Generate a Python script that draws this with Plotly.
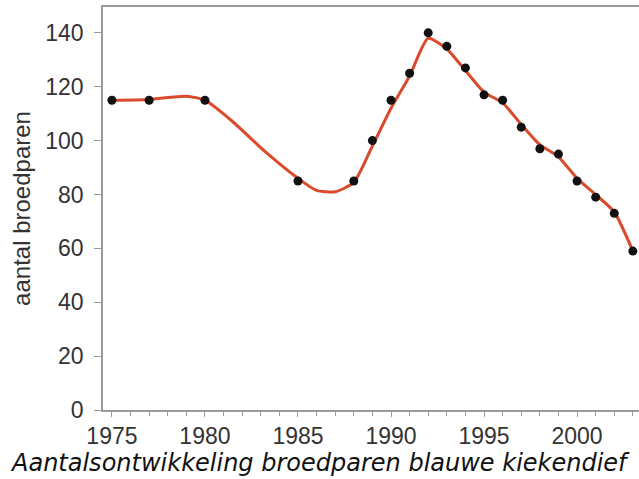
import plotly.graph_objects as go

# observed counts (points)
point_years = [1975, 1977, 1980, 1985, 1988, 1989, 1990, 1991, 1992, 1993, 1994,
               1995, 1996, 1997, 1998, 1999, 2000, 2001, 2002, 2003]
point_values = [115, 115, 115, 85, 85, 100, 115, 125, 140, 135, 127,
                117, 115, 105, 97, 95, 85, 79, 73, 59]

# smoothed trend line
trend_years = [1975, 1977, 1979, 1980, 1981.5, 1983.3, 1985, 1986, 1987, 1988,
               1989, 1990, 1991, 1992, 1993, 1994, 1995, 1996, 1997, 1998,
               1999, 2000, 2001, 2002, 2003]
trend_values = [115, 115.3, 116.5, 115, 107, 95.5, 86, 81.5, 81, 84.5,
                98, 112, 124, 138, 134, 126, 118, 114, 106, 98.5,
                94, 86, 80, 73.5, 59]

y_ticks = [0, 20, 40, 60, 80, 100, 120, 140]
x_ticks = [1975, 1980, 1985, 1990, 1995, 2000]

fig = go.Figure()
fig.add_trace(go.Scatter(
    x=trend_years, y=trend_values, mode="lines",
    line=dict(color="#da4a2c", width=3, shape="spline", smoothing=0.6),
    hoverinfo="skip", showlegend=False,
))
fig.add_trace(go.Scatter(
    x=point_years, y=point_values, mode="markers",
    marker=dict(color="#111111", size=9, symbol="circle"),
    showlegend=False,
))

fig.update_layout(
    width=639, height=479,
    margin=dict(l=103, r=0, t=7, b=69),
    paper_bgcolor="white", plot_bgcolor="white",
    font=dict(family="Liberation Sans, Arial, sans-serif", color="#333333", size=18),
    xaxis=dict(
        range=[1974.52, 2003.33],
        tickvals=x_ticks, ticktext=[str(v) for v in x_ticks],
        showgrid=False, zeroline=False,
        showline=True, linecolor="#9a9a9a", linewidth=1.5, mirror=True,
        ticks="outside", ticklen=5, tickcolor="#9a9a9a",
        minor=dict(dtick=1, tick0=1975, ticks="outside", ticklen=4, tickcolor="#9a9a9a", showgrid=False),
        tickfont=dict(size=23, color="#333333"),
    ),
    yaxis=dict(
        range=[0, 149.6],
        tickvals=y_ticks,
        showgrid=False, zeroline=False,
        showline=True, linecolor="#9a9a9a", linewidth=1.5,
        ticks="outside", ticklen=7, tickcolor="#9a9a9a",
        ticklabelstandoff=6,
        tickfont=dict(size=23, color="#333333"),
        title=dict(text="aantal broedparen", font=dict(size=24, color="#333333"), standoff=8),
    ),
    annotations=[dict(
        text="<i>Aantalsontwikkeling broedparen blauwe kiekendief</i>",
        xref="paper", yref="paper", x=-0.177, y=-0.093,
        xanchor="left", yanchor="top", showarrow=False,
        font=dict(family="DejaVu Sans, Verdana, sans-serif", size=24, color="#111111"),
    )],
)

fig.write_html("out.html", config={"displayModeBar": False},
               post_script="document.body.style.margin='0px';")
